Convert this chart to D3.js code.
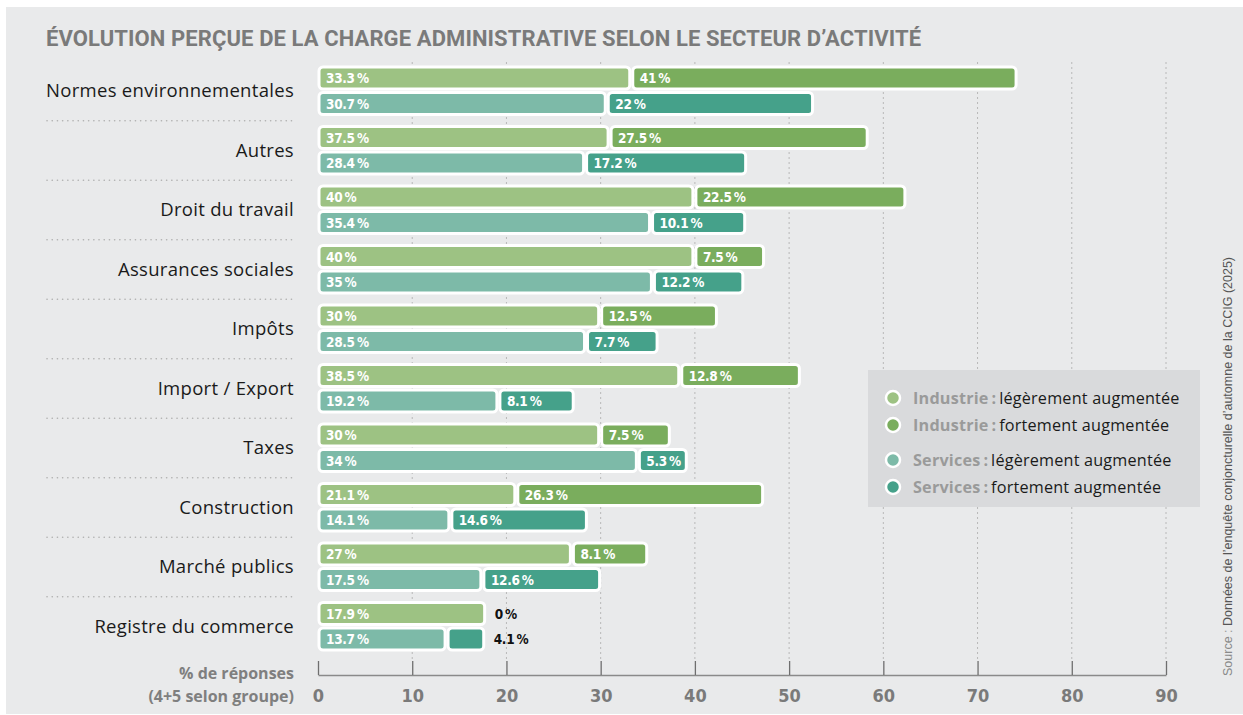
<!DOCTYPE html>
<html>
<head>
<meta charset="utf-8">
<script src="https://cdn.jsdelivr.net/npm/d3@7"></script>
<style>
  body { margin: 0; background: #fff; }
  svg { display: block; }
</style>
</head>
<body>
<div id="chart"></div>
<script>
// values
var categories = ["Normes environnementales", "Autres", "Droit du travail", "Assurances sociales",
    "Impôts", "Import / Export", "Taxes", "Construction", "Marché publics", "Registre du commerce"]
var industrieLegere = [33.3, 37.5, 40, 40, 30, 38.5, 30, 21.1, 27, 17.9]
var industrieForte = [41, 27.5, 22.5, 7.5, 12.5, 12.8, 7.5, 26.3, 8.1, 0]
var servicesLegere = [30.7, 28.4, 35.4, 35, 28.5, 19.2, 34, 14.1, 17.5, 13.7]
var servicesForte = [22, 17.2, 10.1, 12.2, 7.7, 8.1, 5.3, 14.6, 12.6, 4.1]
// the original draws a few bars shorter/longer than their printed label
var industrieLegereDrawn = [33.3, 31, 40, 40, 30, 38.5, 30, 21.1, 27, 17.9]
var servicesLegereDrawn = [30.7, 28.4, 35.4, 35.6, 28.5, 19.2, 34, 14.1, 17.5, 13.7]
var servicesForteDrawn = [22, 17.2, 10.1, 9.7, 7.7, 8.1, 5.3, 14.6, 12.6, 4.1]
var xTicks = [0, 10, 20, 30, 40, 50, 60, 70, 80, 90]

var legendGroups = ["Industrie", "Industrie", "Services", "Services"]
var legendLabels = ["légèrement augmentée", "fortement augmentée", "légèrement augmentée", "fortement augmentée"]
var colors = ["#9dc283", "#7aad5d", "#7dbaa8", "#45a18a"]

var width = 1243
var height = 715
var condensed = "'DejaVu Sans Condensed', 'DejaVu Sans', sans-serif"
var labelFont = "'Open Sans', 'Noto Sans', sans-serif"

var svg = d3.select("#chart").append("svg")
    .attr("width", width)
    .attr("height", height)

svg.append("rect")
    .attr("x", 6).attr("y", 7)
    .attr("width", width - 6).attr("height", height - 8)
    .attr("fill", "#e9eaeb")

svg.append("text")
    .attr("x", 46).attr("y", 46)
    .attr("fill", "#7a7a7a")
    .style("font-family", "Roboto, sans-serif")
    .style("font-weight", 700)
    .style("font-size", "22px")
    .style("letter-spacing", "0.1px")
    .text("ÉVOLUTION PERÇUE DE LA CHARGE ADMINISTRATIVE SELON LE SECTEUR D’ACTIVITÉ")

var x = d3.scaleLinear().domain([0, 90]).range([318, 1166])
var y = d3.scaleBand().domain(categories).range([61.25, 656.25])
var axisY = 675

// dotted vertical grid
svg.append("g").selectAll("line")
    .data(xTicks.slice(1))
    .enter().append("line")
    .attr("x1", d => x(d)).attr("x2", d => x(d))
    .attr("y1", 62).attr("y2", axisY - 14)
    .attr("stroke", "#b8b8b8")
    .attr("stroke-width", 1)
    .attr("stroke-dasharray", "2,3")

// dotted separators between categories
svg.append("g").selectAll("line")
    .data(categories.slice(1))
    .enter().append("line")
    .attr("x1", 47).attr("x2", 295)
    .attr("y1", d => y(d)).attr("y2", d => y(d))
    .attr("stroke", "#b0b0b0")
    .attr("stroke-width", 1.6)
    .attr("stroke-linecap", "round")
    .attr("stroke-dasharray", "0.1,5.1")

svg.append("g").selectAll("text")
    .data(categories)
    .enter().append("text")
    .attr("x", 294)
    .attr("y", d => y(d) + y.bandwidth() / 2 + 6)
    .attr("text-anchor", "end")
    .attr("fill", "#1a1a1a")
    .style("font-family", labelFont)
    .style("font-size", "18.5px")
    .style("letter-spacing", "0.3px")
    .text(d => d)

// build segments: two bars per category, each one light + one strong segment
var segments = []
categories.forEach(function(c, i) {
    var rows = [
        [industrieLegereDrawn[i], industrieForte[i], industrieLegere[i], industrieForte[i], 0, 0],
        [servicesLegereDrawn[i], servicesForteDrawn[i], servicesLegere[i], servicesForte[i], 1, 2]
    ]
    rows.forEach(function(r) {
        var a = r[0], b = r[1], row = r[4], ci = r[5]
        segments.push({cat: c, row: row, x0: 0, x1: a, label: r[2], color: colors[ci]})
        segments.push({cat: c, row: row, x0: a, x1: a + b, label: r[3], color: colors[ci + 1]})
    })
})

function fmt(v) { return String(v) + "\u2009%" }
var barH = 22
function barTop(d) {
    var c = y(d.cat) + y.bandwidth() / 2
    return d.row == 0 ? c - 24 : c + 1.5
}
function narrow(d) { return x(d.x1) - x(d.x0) < 45 }

var segG = svg.append("g")
segG.selectAll("rect")
    .data(segments.filter(d => d.x1 > d.x0))
    .enter().append("rect")
    .attr("x", d => x(d.x0) + 1)
    .attr("y", d => barTop(d))
    .attr("width", d => x(d.x1) - x(d.x0) - 3)
    .attr("height", barH)
    .attr("rx", 4)
    .attr("fill", d => d.color)
    .attr("stroke", "#fff")
    .attr("stroke-width", 3)

segG.selectAll("text")
    .data(segments)
    .enter().append("text")
    .attr("x", d => narrow(d) ? x(d.x1) + 8 : x(d.x0) + 8)
    .attr("y", d => barTop(d) + barH / 2 + 5)
    .attr("fill", d => narrow(d) ? "#111" : "#fff")
    .style("font-family", condensed)
    .style("font-weight", 700)
    .style("font-size", "13.5px")
    .style("letter-spacing", "-0.3px")
    .text(d => fmt(d.label))

// axis
var axis = svg.append("g")
    .attr("transform", `translate(0,${axisY})`)
    .call(d3.axisBottom(x).tickValues(xTicks).tickSize(-14).tickSizeOuter(0).tickPadding(14))
axis.select(".domain").attr("stroke", "#8a8a8a").attr("stroke-width", 1.5)
axis.selectAll(".tick line").attr("stroke", "#6f6f6f").attr("stroke-width", 1.3)
axis.selectAll(".tick text")
    .attr("fill", "#7a7a7a")
    .style("font-family", condensed)
    .style("font-weight", 700)
    .style("font-size", "18px")

svg.append("text")
    .attr("x", 294).attr("y", 679)
    .attr("text-anchor", "end")
    .attr("fill", "#7f7f7f")
    .style("font-family", labelFont)
    .style("font-weight", 700)
    .style("font-size", "16px")
    .text("% de réponses")
svg.append("text")
    .attr("x", 294).attr("y", 702)
    .attr("text-anchor", "end")
    .attr("fill", "#7f7f7f")
    .style("font-family", labelFont)
    .style("font-weight", 700)
    .style("font-size", "16px")
    .text("(4+5 selon groupe)")

// legend
var legend = svg.append("g")
legend.append("rect")
    .attr("x", 868).attr("y", 370)
    .attr("width", 332).attr("height", 137)
    .attr("fill", "#d9dadc")
var legendY = [398, 425, 460, 487]
var items = legend.selectAll("g.item")
    .data(legendLabels)
    .enter().append("g")
    .attr("class", "item")
    .attr("transform", (d, i) => `translate(893,${legendY[i]})`)
items.append("circle")
    .attr("r", 7)
    .attr("fill", (d, i) => colors[i])
    .attr("stroke", "#fff")
    .attr("stroke-width", 2.5)
var lt = items.append("text")
    .attr("x", 20).attr("y", 5.5)
    .style("font-family", labelFont)
    .style("font-size", "16.2px")
    .style("letter-spacing", "0.2px")
lt.append("tspan")
    .attr("fill", "#9a9a9a")
    .style("font-weight", 700)
    .text((d, i) => legendGroups[i] + "\u2009:\u2009")
lt.append("tspan")
    .attr("fill", "#1a1a1a")
    .text(d => d)

// source, rotated
var src = svg.append("text")
    .attr("transform", "translate(1232,676) rotate(-90)")
    .style("font-family", "'Liberation Sans', Arial, sans-serif")
    .style("font-size", "12.5px")
src.append("tspan").attr("fill", "#8a8a8a").text("Source : ")
src.append("tspan").attr("fill", "#555").text("Données de l’enquête conjoncturelle d’automne de la CCIG (2025)")
</script>
</body>
</html>
